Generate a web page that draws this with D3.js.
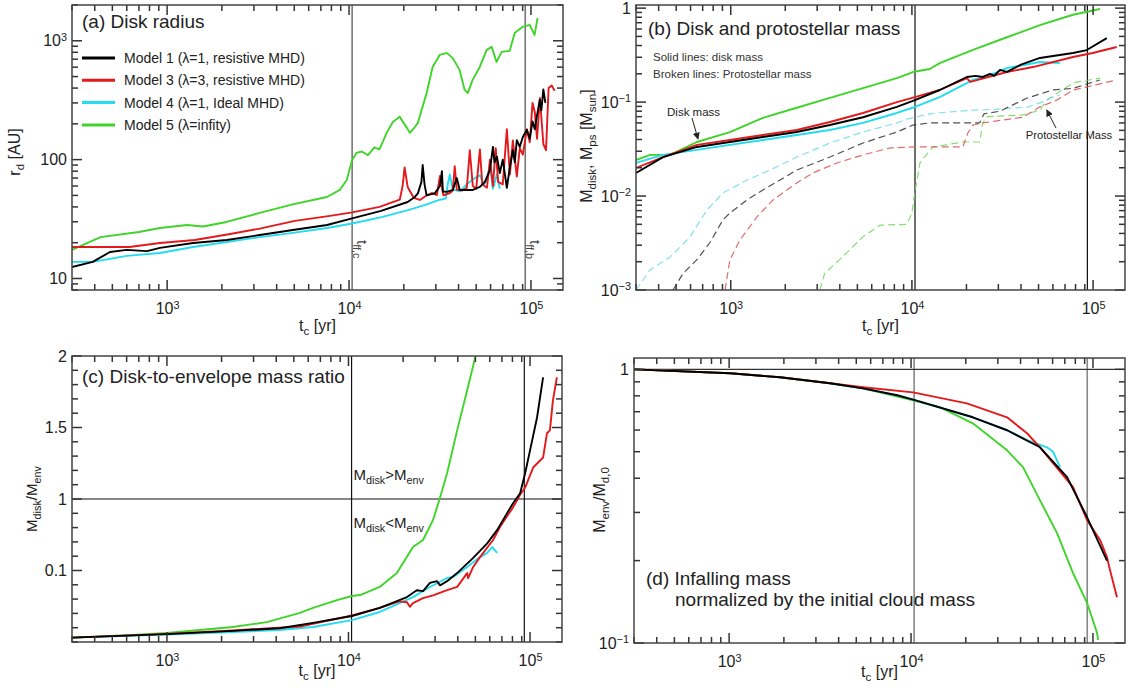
<!DOCTYPE html>
<html><head><meta charset="utf-8">
<script src="https://cdn.jsdelivr.net/npm/d3@7"></script>
<style>
body{margin:0;background:#fff}
svg{display:block}
text{font-family:"Liberation Sans",Arial,Helvetica,sans-serif;fill:#222}
</style></head>
<body><svg id="chart" width="1128" height="693"></svg>
<script>
// ---------------- DATA ----------------
const xDomain = [300, 1.5e5];
const xMajor = [1e3, 1e4, 1e5];
const xTickLabels = ["10^3", "10^4", "10^5"];
const tffC = 1.04e4, tffB = 9.3e4;

const seriesNames = ["Model 1 (λ=1, resistive MHD)", "Model 3 (λ=3, resistive MHD)", "Model 4 (λ=1, Ideal MHD)", "Model 5 (λ=infity)"];
const seriesColors = ["#000000", "#e3191b", "#22dcef", "#3fd42a"];

// (a) disk radius [AU]
const aYMajor = [10, 100, 1000];
const aYLabels = ["10", "100", "10^3"];
const radiusM1 = [[300,12.5],[390,13.8],[485,16.7],[600,17.4],[775,17.0],[913,18.1],[1390,19.9],[2130,21.1],[3230,23.2],[4910,25.6],[7570,28.2],[10400,32],[15000,37],[21000,44],[23000,48.5],[23900,52],[25000,65],[25400,90],[26000,62],[26700,50],[29600,52],[31600,60],[32400,80],[32800,54],[34500,53.5],[37200,55.6],[39100,70],[40600,55.6],[47900,55.6],[52400,58.9],[55800,64.9],[59500,82],[61800,128],[63000,95],[65000,106],[67400,77],[70000,100],[73700,57.8],[76600,87],[79500,120],[81500,95],[83600,146],[86800,128],[90200,155],[94900,178],[98500,150],[102000,210],[105000,180],[107600,229],[111800,318],[114000,260],[117000,390],[120000,300]];
const radiusM3 = [[300,18.4],[620,18.4],[913,19.9],[1420,21.1],[2220,23.7],[3230,26.3],[5040,30.5],[7860,33.6],[10400,36],[14700,40],[19000,46],[19700,60],[20200,86],[21000,58.9],[22700,47.6],[24500,45.8],[26400,49.5],[28500,52.4],[30400,50.4],[31600,73],[33000,50],[35800,52.4],[37200,55],[38100,88],[39100,56],[42000,55],[44400,58],[46100,120],[47900,60],[50000,57],[52400,122],[54000,62],[57300,58],[59500,100],[61800,60],[64000,125],[66000,65],[70000,62],[73700,180],[76600,75],[79500,145],[83600,72],[86800,125],[90200,110],[94900,180],[98500,140],[102000,300],[105000,250],[108000,150],[112000,330],[117000,135],[121000,120],[125000,400],[130000,420],[135000,380]];
const radiusM4 = [[300,13.8],[390,13.8],[600,15.5],[913,16.4],[1390,18.4],[2130,20.3],[3230,22.3],[4910,24.2],[7570,26.6],[10400,29],[15300,33],[21600,38],[26700,42],[31600,46],[34000,47],[34900,62],[35800,75],[37200,56],[40600,54],[44400,62],[47900,68],[52400,74],[55000,62],[57300,66],[59500,90],[61800,57],[65000,75],[67400,57]];
const radiusM5 = [[300,17.4],[430,22.3],[700,24.6],[913,26.6],[1285,28.2],[1575,27.4],[2120,29.9],[3230,35.6],[4900,42],[7560,48.5],[8900,55.6],[9710,67.5],[10400,99.4],[11000,114],[11750,117],[12700,109],[13800,127],[14700,122],[16100,168],[17400,207],[19000,229],[20800,185],[21600,168],[23000,188],[23900,204],[26700,364],[28800,602],[31500,760],[34400,791],[37100,718],[40500,569],[43200,386],[45000,364],[47800,469],[52300,602],[57100,838],[60800,888],[64700,664],[69000,807],[76400,823],[81400,1165],[90200,1310],[98300,1362],[104700,1120],[108700,1560]];

// (b) disk mass (solid) and protostellar mass (dashed) [Msun]
const bYMajor = [1e-3, 1e-2, 1e-1, 1];
const bYLabels = ["10^-3", "10^-2", "10^-1", "1"];
const diskMassM1 = [[300,0.0176],[423,0.026],[651,0.0333],[990,0.0376],[1505,0.0425],[2314,0.048],[3526,0.057],[5371,0.069],[8260,0.089],[10390,0.105],[14240,0.1345],[20100,0.185],[22500,0.19],[24600,0.185],[27000,0.2],[28500,0.19],[30600,0.22],[33430,0.21],[40000,0.25],[50870,0.295],[77440,0.333],[92300,0.358],[119000,0.48]];
const diskMassM3 = [[300,0.0199],[423,0.026],[651,0.035],[990,0.0395],[1505,0.0446],[2314,0.0505],[3526,0.0614],[5371,0.0766],[8260,0.1],[10390,0.113],[14240,0.1345],[20100,0.18],[21000,0.164],[33430,0.209],[46550,0.236],[77440,0.302],[99500,0.333],[135000,0.386]];
const diskMassM4 = [[300,0.0225],[423,0.0274],[651,0.031],[990,0.035],[1505,0.0395],[2314,0.0446],[3526,0.0505],[5371,0.06],[8260,0.0766],[10390,0.0887],[14240,0.113],[21720,0.172],[26880,0.194],[33430,0.23],[50870,0.267],[65600,0.26]];
const diskMassM5 = [[300,0.0242],[358,0.0274],[462,0.0274],[651,0.0376],[990,0.048],[1505,0.068],[2314,0.087],[3526,0.111],[5371,0.141],[8260,0.18],[10130,0.209],[12550,0.225],[14240,0.26],[21720,0.36],[33430,0.49],[50870,0.66],[77440,0.85],[109000,0.98]];
const starMassM1 = [[480,0.001],[545,0.0015],[651,0.0021],[768,0.0032],[906,0.0056],[990,0.0066],[1230,0.0091],[1505,0.0116],[1870,0.0148],[2314,0.0189],[3526,0.026],[5371,0.0367],[8260,0.048],[10130,0.057],[12550,0.06],[23660,0.06],[25000,0.075],[30600,0.08],[33430,0.087],[43070,0.11],[60000,0.135],[77440,0.14],[109000,0.172]];
const starMassM3 = [[930,0.001],[990,0.0021],[1124,0.0034],[1396,0.006],[1712,0.0091],[2314,0.0138],[2843,0.0176],[3855,0.0225],[5371,0.0274],[7580,0.0325],[10130,0.0333],[19100,0.0333],[20360,0.047],[21720,0.057],[24600,0.06],[41000,0.069],[50870,0.089],[63000,0.105],[77440,0.134],[135000,0.172]];
const starMassM4 = [[300,0.001],[358,0.00163],[462,0.00224],[595,0.00366],[739,0.0071],[906,0.0108],[1230,0.0148],[1647,0.0189],[2314,0.026],[3526,0.0367],[5371,0.048],[8260,0.06],[9380,0.066],[12550,0.075],[14240,0.077],[21720,0.082],[29390,0.084],[33430,0.086],[43070,0.088],[50870,0.098],[60000,0.113],[65600,0.119]];
const starMassM5 = [[3107,0.001],[3300,0.0015],[4385,0.0025],[5371,0.0037],[6670,0.0049],[9380,0.005],[10000,0.0066],[10390,0.011],[11070,0.0225],[13030,0.0333],[19100,0.0376],[23660,0.0376],[24600,0.06],[26000,0.07],[41000,0.073],[50870,0.082],[55500,0.105],[77440,0.16],[109000,0.18]];

// (c) disk-to-envelope mass ratio
const cYTicks = [2, 1.5, 1, 0.1];
const cYLabels = ["2", "1.5", "1", "0.1"];
const ratioM1 = [[300,0.0115],[1000,0.0129],[2306,0.0143],[4188,0.0156],[6376,0.0185],[10460,0.0231],[14870,0.03],[21000,0.0425],[23790,0.053],[25740,0.0515],[28090,0.067],[30700,0.071],[31950,0.062],[34930,0.071],[39670,0.092],[48630,0.15],[58100,0.24],[65950,0.37],[74900,0.64],[80800,0.88],[88200,1.04],[94000,1.18],[100000,1.34],[109300,1.57],[118000,1.85]];
const ratioM3 = [[300,0.0115],[1000,0.013],[2306,0.0145],[5399,0.0165],[10460,0.0235],[14870,0.03],[19000,0.037],[21000,0.036],[21780,0.031],[22660,0.035],[25740,0.041],[29240,0.045],[34930,0.053],[39670,0.059],[45060,0.092],[45620,0.078],[48630,0.112],[53000,0.154],[62600,0.267],[68400,0.41],[80800,0.77],[88200,1.03],[94000,1.08],[104000,1.22],[118000,1.29],[124000,1.46],[128700,1.48],[133700,1.69],[140600,1.85]];
const ratioM4 = [[300,0.0115],[1000,0.0127],[2306,0.0138],[4188,0.0147],[6376,0.0162],[10460,0.0202],[14870,0.0263],[22660,0.0425],[28090,0.0588],[34930,0.0785],[37700,0.081],[45060,0.112],[53000,0.154],[58100,0.176],[61800,0.213],[65950,0.176]];
const ratioM5 = [[300,0.0115],[650,0.0125],[1000,0.0134],[1521,0.0147],[2306,0.0162],[3555,0.019],[5399,0.0255],[6376,0.03],[8645,0.0386],[10460,0.044],[11590,0.0454],[14870,0.0588],[18470,0.092],[22660,0.213],[25740,0.267],[29240,0.51],[31950,1.01],[34930,1.18],[39670,1.48],[45060,1.76],[49880,1.99]];

// (d) infalling (envelope) mass normalized by initial cloud mass
const dYMajor = [0.1, 1];
const dYLabels = ["10^-1", "1"];
const envM1 = [[300,1.0],[1012,0.967],[1905,0.935],[3584,0.889],[5444,0.852],[8379,0.804],[10270,0.775],[21860,0.668],[33710,0.599],[51170,0.519],[72040,0.404],[92840,0.288],[119400,0.20]];
const envM3 = [[300,1.0],[1012,0.967],[1905,0.935],[3584,0.889],[5444,0.86],[10270,0.824],[20270,0.751],[33710,0.668],[43390,0.584],[51170,0.519],[60340,0.454],[77700,0.371],[92840,0.281],[109400,0.238],[119400,0.206],[124000,0.185],[135500,0.147]];
const envM4 = [[300,1.0],[1012,0.967],[1905,0.935],[3584,0.889],[5444,0.852],[8379,0.804],[10270,0.775],[21860,0.668],[33710,0.60],[43390,0.551],[55920,0.519],[60340,0.50],[65910,0.439]];
const envM5 = [[300,1.0],[1012,0.967],[1905,0.935],[3584,0.889],[5444,0.852],[10270,0.771],[14400,0.727],[21860,0.635],[33710,0.506],[41240,0.439],[51170,0.332],[63480,0.252],[77700,0.180],[92840,0.140],[105300,0.109],[106700,0.1026]];

// ---------------- LAYOUT ----------------
const boxA = {x0:72, x1:563, y0:5, y1:290};
const boxB = {x0:636, x1:1125, y0:5, y1:290};
const boxC = {x0:72, x1:562, y0:356, y1:642};
const boxD = {x0:634, x1:1125, y0:358, y1:643};

const svg = d3.select("#chart");
const frameColor = "#444";

function rich(t, s, fs) {
  const re = /([_^])\{([^}]*)\}|([^_^]+)/g; let m, off = 0;
  while ((m = re.exec(s))) {
    if (m[3] !== undefined) { t.append("tspan").attr("dy", -off).text(m[3]); off = 0; }
    else {
      const target = m[1] === "_" ? fs * 0.28 : -fs * 0.42;
      t.append("tspan").attr("dy", target - off).attr("font-size", fs * 0.72).text(m[2]);
      off = target;
    }
  }
}
function supLabels(g) {
  g.selectAll("text").each(function () {
    const t = d3.select(this); const s = t.text();
    if (s.includes("^")) {
      const [b, e] = s.split("^"); t.text(null);
      t.append("tspan").text(b);
      t.append("tspan").attr("dy", "-0.5em").attr("font-size", "0.68em").text(e.replace("-", "−"));
    }
  });
}
function styleAxis(g) {
  g.select(".domain").remove();
  g.selectAll(".tick line").remove();
  g.selectAll("text").attr("font-size", 16).style("fill", "#222");
  supLabels(g);
}
function drawAxes(b, x, y, yMajor, yLab, yMinor) {
  const xMinor = x.ticks().filter(v => !xMajor.some(m => Math.abs(m - v) / m < 1e-6));
  const g = svg.append("g");
  const xl = d => xTickLabels[xMajor.indexOf(d)];
  const yl = d => yLab[yMajor.indexOf(d)];
  // labels through d3 axes
  g.append("g").attr("transform", `translate(0,${b.y1})`)
    .call(d3.axisBottom(x).tickValues(xMajor).tickSize(0).tickPadding(13).tickFormat(xl)).call(styleAxis);
  g.append("g").attr("transform", `translate(${b.x0},0)`)
    .call(d3.axisLeft(y).tickValues(yMajor).tickSize(0).tickPadding(5).tickFormat(yl)).call(styleAxis);
  // inward tick marks on all four sides (IDL style)
  const MA = 10, MI = 6;
  const segs = [];
  xMajor.forEach(v => { const px = x(v); segs.push([px, b.y1, px, b.y1 - MA], [px, b.y0, px, b.y0 + MA]); });
  xMinor.forEach(v => { const px = x(v); segs.push([px, b.y1, px, b.y1 - MI], [px, b.y0, px, b.y0 + MI]); });
  yMajor.forEach(v => { const py = y(v); segs.push([b.x0, py, b.x0 + MA, py], [b.x1, py, b.x1 - MA, py]); });
  yMinor.forEach(v => { const py = y(v); segs.push([b.x0, py, b.x0 + MI, py], [b.x1, py, b.x1 - MI, py]); });
  g.selectAll("line.tk").data(segs).enter().append("line").attr("class", "tk")
    .attr("x1", d => d[0]).attr("y1", d => d[1]).attr("x2", d => d[2]).attr("y2", d => d[3])
    .attr("stroke", "#333").attr("stroke-width", 1.5);
  g.append("rect").attr("x", b.x0).attr("y", b.y0).attr("width", b.x1 - b.x0).attr("height", b.y1 - b.y0)
    .attr("fill", "none").attr("stroke", frameColor).attr("stroke-width", 1.5);
}
let clipN = 0;
function clipFor(b) {
  const id = "clip" + (clipN++);
  svg.append("clipPath").attr("id", id).append("rect")
    .attr("x", b.x0).attr("y", b.y0).attr("width", b.x1 - b.x0).attr("height", b.y1 - b.y0);
  return svg.append("g").attr("clip-path", `url(#${id})`);
}
function vline(g, x, b, color, w) {
  g.append("line").attr("x1", x).attr("x2", x).attr("y1", b.y0).attr("y2", b.y1)
    .attr("stroke", color).attr("stroke-width", w);
}
function hline(g, y, b, color, w) {
  g.append("line").attr("x1", b.x0).attr("x2", b.x1).attr("y1", y).attr("y2", y)
    .attr("stroke", color).attr("stroke-width", w);
}
function xTitle(b, baseline) {
  const t = svg.append("text").attr("x", (b.x0 + b.x1) / 2).attr("y", baseline)
    .attr("text-anchor", "middle").attr("font-size", 16);
  rich(t, "t_{c} [yr]", 16);
}
function yTitle(cx, cy, s, fs) {
  const t = svg.append("text").attr("transform", `translate(${cx},${cy}) rotate(-90)`)
    .attr("text-anchor", "middle").attr("font-size", fs);
  rich(t, s, fs);
}
const drawOrder = [3, 2, 1, 0];

// ---------------- PANEL A ----------------
{
  const b = boxA;
  const x = d3.scaleLog().domain(xDomain).range([b.x0, b.x1]);
  const y = d3.scaleLog().domain([8, 2000]).range([b.y1, b.y0]);
  const g = clipFor(b);
  vline(g, x(tffC), b, "#777", 1.6); vline(g, x(tffB), b, "#777", 1.6);
  const line = d3.line().x(d => x(d[0])).y(d => y(d[1]));
  const data = [radiusM1, radiusM3, radiusM4, radiusM5];
  drawOrder.forEach(i => g.append("path").datum(data[i]).attr("d", line)
    .attr("fill", "none").attr("stroke", seriesColors[i]).attr("stroke-width", 1.9).attr("stroke-linejoin", "round"));
  drawAxes(b, x, y, aYMajor, aYLabels, y.ticks().filter(v => !aYMajor.includes(v)));
  svg.append("text").attr("x", b.x0 + 10).attr("y", 28).attr("font-size", 19).text("(a) Disk radius");
  seriesNames.forEach((n, i) => {
    const yy = 58 + i * 22.3;
    svg.append("line").attr("x1", 82).attr("x2", 115).attr("y1", yy).attr("y2", yy)
      .attr("stroke", seriesColors[i]).attr("stroke-width", 3);
    svg.append("text").attr("x", 124).attr("y", yy + 5).attr("font-size", 14).text(n);
  });
  [[tffC, "t_{ff,c}"], [tffB, "t_{ff,b}"]].forEach(([t, s]) => {
    const tx = svg.append("text").attr("transform", `translate(${x(t) + 5},240) rotate(90)`).attr("font-size", 15).style("fill", "#444");
    rich(tx, s, 15);
  });
  xTitle(b, 331);
  yTitle(20, 152, "r_{d} [AU]", 16);
}

// ---------------- PANEL B ----------------
{
  const b = boxB;
  const x = d3.scaleLog().domain(xDomain).range([b.x0, b.x1]);
  const y = d3.scaleLog().domain([1e-3, 1.08]).range([b.y1, b.y0]);
  const g = clipFor(b);
  vline(g, x(tffC), b, "#111", 1.2); vline(g, x(tffB), b, "#111", 1.2);
  const line = d3.line().x(d => x(d[0])).y(d => y(d[1]));
  const stars = [starMassM1, starMassM3, starMassM4, starMassM5];
  const disks = [diskMassM1, diskMassM3, diskMassM4, diskMassM5];
  const dashColors = ["#333", "#d9534f", "#6fdcec", "#6fd85a"];
  drawOrder.forEach(i => g.append("path").datum(stars[i]).attr("d", line)
    .attr("fill", "none").attr("stroke", dashColors[i]).attr("stroke-width", 1.2)
    .attr("stroke-dasharray", "7,4").attr("opacity", 0.85));
  drawOrder.forEach(i => g.append("path").datum(disks[i]).attr("d", line)
    .attr("fill", "none").attr("stroke", seriesColors[i]).attr("stroke-width", 1.9).attr("stroke-linejoin", "round"));
  drawAxes(b, x, y, bYMajor, bYLabels, y.ticks().filter(v => !bYMajor.some(m => Math.abs(m - v) / m < 1e-6)));
  svg.append("text").attr("x", b.x0 + 12).attr("y", 35).attr("font-size", 19).text("(b) Disk and protostellar mass");
  svg.append("text").attr("x", b.x0 + 17).attr("y", 61).attr("font-size", 11.5).style("fill", "#333").text("Solid lines: disk mass");
  svg.append("text").attr("x", b.x0 + 17).attr("y", 78).attr("font-size", 11.5).style("fill", "#333").text("Broken lines: Protostellar mass");
  svg.append("defs").html('<marker id="arr" viewBox="0 0 10 10" refX="9" refY="5" markerWidth="7" markerHeight="7" orient="auto"><path d="M0,0L10,5L0,10z" fill="#222"/></marker>');
  // annotations placed in data coordinates
  svg.append("text").attr("x", x(445)).attr("y", y(0.0711)).attr("font-size", 11.5).text("Disk mass");
  svg.append("line").attr("x1", x(611)).attr("y1", y(0.0677)).attr("x2", x(660)).attr("y2", y(0.0405))
    .attr("stroke", "#222").attr("stroke-width", 1).attr("marker-end", "url(#arr)");
  svg.append("text").attr("x", x(42500)).attr("y", y(0.0405)).attr("font-size", 11.2).text("Protostellar Mass");
  svg.append("line").attr("x1", x(62400)).attr("y1", y(0.053)).attr("x2", x(55500)).attr("y2", y(0.0824))
    .attr("stroke", "#222").attr("stroke-width", 1).attr("marker-end", "url(#arr)");
  xTitle(b, 331);
  yTitle(592, 146, "M_{disk}, M_{ps} [M_{sun}]", 16);
}

// ---------------- PANEL C ----------------
{
  const b = boxC;
  const x = d3.scaleLog().domain(xDomain).range([b.x0, b.x1]);
  // piecewise axis: linear above 1, logarithmic (0.01..1) below 1
  const fC = v => v >= 1 ? v - 1 : Math.log10(v) / 2;
  const yF = d3.scaleLinear().domain([-1, 1]).range([b.y1, b.y0]);
  const g = clipFor(b);
  vline(g, x(tffC), b, "#111", 1.2); vline(g, x(tffB), b, "#111", 1.2);
  hline(g, yF(fC(1)), b, "#111", 1.2);
  const line = d3.line().x(d => x(d[0])).y(d => yF(fC(d[1])));
  const data = [ratioM1, ratioM3, ratioM4, ratioM5];
  drawOrder.forEach(i => g.append("path").datum(data[i]).attr("d", line)
    .attr("fill", "none").attr("stroke", seriesColors[i]).attr("stroke-width", 1.9).attr("stroke-linejoin", "round"));
  const fMajor = cYTicks.map(fC);
  const fMinor = d3.range(-10, 11).map(k => k / 10).filter(v => !fMajor.some(m => Math.abs(m - v) < 1e-6));
  drawAxes(b, x, yF, fMajor, cYLabels, fMinor);
  svg.append("text").attr("x", b.x0 + 10).attr("y", 383).attr("font-size", 19).text("(c) Disk-to-envelope mass ratio");
  const t1 = svg.append("text").attr("x", x(tffC) + 2).attr("y", 480).attr("font-size", 15); rich(t1, "M_{disk}>M_{env}", 15);
  const t2 = svg.append("text").attr("x", x(tffC) + 2).attr("y", 528).attr("font-size", 15); rich(t2, "M_{disk}<M_{env}", 15);
  xTitle(b, 676);
  yTitle(37, 499, "M_{disk}/M_{env}", 15);
}

// ---------------- PANEL D ----------------
{
  const b = boxD;
  const x = d3.scaleLog().domain(xDomain).range([b.x0, b.x1]);
  const y = d3.scaleLog().domain([0.1, 1.1]).range([b.y1, b.y0]);
  const g = clipFor(b);
  vline(g, x(tffC), b, "#888", 1.6); vline(g, x(tffB), b, "#888", 1.6);
  hline(g, y(1), b, "#333", 1.2);
  const line = d3.line().x(d => x(d[0])).y(d => y(d[1]));
  const data = [envM1, envM3, envM4, envM5];
  drawOrder.forEach(i => g.append("path").datum(data[i]).attr("d", line)
    .attr("fill", "none").attr("stroke", seriesColors[i]).attr("stroke-width", 1.9).attr("stroke-linejoin", "round"));
  drawAxes(b, x, y, dYMajor, dYLabels, y.ticks().filter(v => !dYMajor.some(m => Math.abs(m - v) / m < 1e-6)));
  svg.append("text").attr("x", b.x0 + 12).attr("y", 585).attr("font-size", 19).text("(d) Infalling mass");
  svg.append("text").attr("x", b.x0 + 41).attr("y", 606).attr("font-size", 19).text("normalized by the initial cloud mass");
  xTitle(b, 677);
  yTitle(605, 500, "M_{env}/M_{d,0}", 16);
}
</script>
</body></html>
